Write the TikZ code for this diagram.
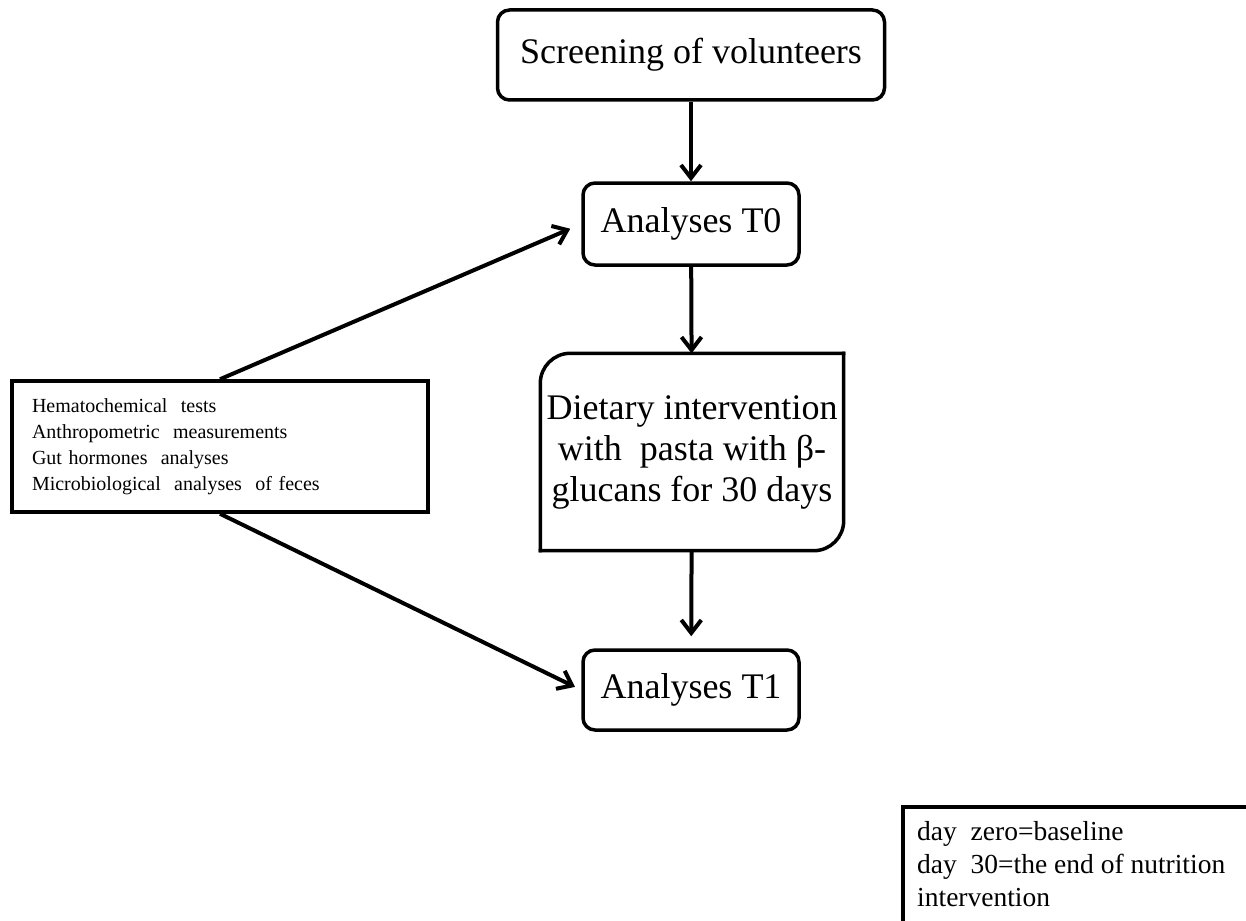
\documentclass[tikz,border=0pt]{standalone}
\usepackage{fontspec}
\setmainfont{Liberation Serif}
\usetikzlibrary{arrows.meta}

\begin{document}
\begin{tikzpicture}[x=1pt,y=-1pt,
  box/.style={draw,line width=3.5pt,rounded corners=12pt,inner sep=0pt,font=\fontsize{36}{41}\selectfont},
  frame/.style={line width=3.5pt,line cap=rect},
  arr/.style={line width=4pt,-{Straight Barb[length=13pt,width=20pt,line width=4pt]}}]
\useasboundingbox (0,0) rectangle (1246,920);
\node[box,minimum width=387pt,minimum height=90pt] (scr) at (691,55) {Screening of volunteers};
\node[box,minimum width=216pt,minimum height=82pt] (t0) at (691,224) {Analyses T0};
\node[inner sep=0pt,align=center,minimum width=303pt,minimum height=197pt,font=\fontsize{36}{41}\selectfont] (diet) at (692,452) {Dietary intervention\\with~ pasta with β-\\glucans for 30 days};
\draw[frame,rounded corners=30pt] (diet.south west) -- (diet.north west) -- (diet.north east);
\draw[frame,rounded corners=30pt] (diet.north east) -- (diet.south east) -- (diet.south west);
\node[box,minimum width=216pt,minimum height=80pt] (t1) at (691,690) {Analyses T1};
\node[draw,line width=3.5pt,minimum width=416pt,minimum height=131pt,text width=376pt,align=left,font=\fontsize{20}{26}\selectfont] (tests) at (220,446.5) {Hematochemical~ tests\\Anthropometric~ measurements\\Gut hormones~ analyses\\Microbiological~ analyses~ of feces};
\node[anchor=north west,inner sep=0pt,align=left,font=\fontsize{27.5}{33}\selectfont] (key) at (917,821) {day~ zero=baseline\\day~ 30=the end of nutrition\\intervention};
\draw[frame] (903,960) |- (1280,807);
% flow
\draw[arr] (scr) -- (t0);
\draw[arr] (t0) -- (diet);
\draw[arr,shorten >=12pt] (diet) -- (t1);
\draw[arr,shorten >=12pt] (tests.north) -- (t0.west);
\draw[arr,shorten >=7pt] (tests.south) -- (t1.west);
\end{tikzpicture}
\end{document}
